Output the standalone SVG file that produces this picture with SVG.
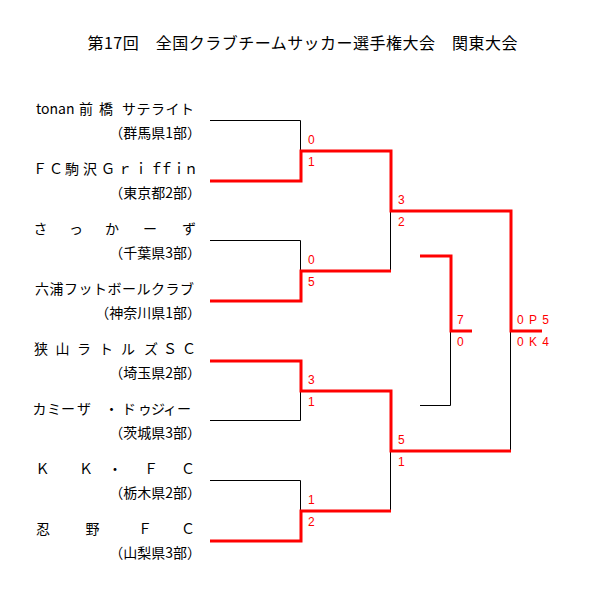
<svg xmlns="http://www.w3.org/2000/svg" width="600" height="600" viewBox="0 0 600 600">
<style>
  .title { font-family: "Noto Sans CJK JP", sans-serif; font-size: 16px; fill: #000; }
  .name { font-family: "Noto Sans CJK JP", sans-serif; font-size: 14px; fill: #000; }
  .pref { font-family: "Noto Sans CJK JP", sans-serif; font-size: 14px; fill: #000; text-anchor: end; }
  .score { font-family: "Liberation Sans", Arial, sans-serif; font-size: 12px; fill: #ff0000; }
  .blk { fill: none; stroke: #000; stroke-width: 1; }
  .red { fill: none; stroke: #ff0000; stroke-width: 3; stroke-linejoin: miter; stroke-linecap: butt; }
</style>
<rect x="0" y="0" width="600" height="600" fill="#ffffff"/>

<text id="title" class="title" x="87.5" y="49" textLength="430" lengthAdjust="spacing">第17回　全国クラブチームサッカー選手権大会　関東大会</text>

<g id="team1">
  <text class="name" x="36" y="114">tonan <tspan x="79">前</tspan> <tspan x="99">橋</tspan> <tspan x="122" letter-spacing="0.5">サテライト</tspan></text>
  <text class="pref" x="201" y="138">（群馬県1部）</text>
</g>
<g id="team2">
  <text class="name" x="33 49 65 83 101 118 134 149.5 159.5 172 184" y="174">ＦＣ駒沢Ｇｒｉｆｆｉｎ</text>
  <text class="pref" x="201" y="198">（東京都2部）</text>
</g>
<g id="team3">
  <text class="name" x="33.5 69 105 143 182" y="234">さっかーず</text>
  <text class="pref" x="201" y="258">（千葉県3部）</text>
</g>
<g id="team4">
  <text class="name" x="35" y="294" textLength="159" lengthAdjust="spacing">六浦フットボールクラブ</text>
  <text class="pref" x="201" y="318">（神奈川県1部）</text>
</g>
<g id="team5">
  <text class="name" x="34 55.5 77 99 121 144 163 182" y="354">狭山ラトルズＳＣ</text>
  <text class="pref" x="201" y="378">（埼玉県2部）</text>
</g>
<g id="team6">
  <text class="name" x="32.5 47 61 77 104.5 122 138 151 163 177" y="414">カミーザ・ドゥジィー</text>
  <text class="pref" x="201" y="438">（茨城県3部）</text>
</g>
<g id="team7">
  <text class="name" x="35.5 79 108 144 181" y="474">ＫＫ・ＦＣ</text>
  <text class="pref" x="201" y="498">（栃木県2部）</text>
</g>
<g id="team8">
  <text class="name" x="36 85.5 138 181" y="534">忍野ＦＣ</text>
  <text class="pref" x="201" y="558">（山梨県3部）</text>
</g>

<g id="connectors">
  <!-- losing (black) lines -->
  <path class="blk" d="M210 120.5 H300.5 V151"/>
  <path class="blk" d="M210 240.5 H300.5 V271"/>
  <path class="blk" d="M210 420.5 H300.5 V391"/>
  <path class="blk" d="M210 480.5 H300.5 V511"/>
  <path class="blk" d="M390.5 211 V271"/>
  <path class="blk" d="M390.5 451 V511"/>
  <path class="blk" d="M510.5 331 V451"/>
  <path class="blk" d="M420 405.5 H450.5 V331"/>
  <!-- winning (red) lines -->
  <path class="red" d="M210 181 H301 V151 H391 V211 H511 V331 H542"/>
  <path class="red" d="M210 301 H301 V271 H391"/>
  <path class="red" d="M210 361 H301 V391 H391 V451 H511"/>
  <path class="red" d="M210 541 H301 V511 H391"/>
  <path class="red" d="M420 256 H451 V331 H472"/>
</g>

<g id="scores">
  <text class="score" x="308" y="144">0</text>
  <text class="score" x="308" y="166">1</text>
  <text class="score" x="308" y="264">0</text>
  <text class="score" x="308" y="286">5</text>
  <text class="score" x="308" y="384">3</text>
  <text class="score" x="308" y="406">1</text>
  <text class="score" x="308" y="504">1</text>
  <text class="score" x="308" y="526">2</text>
  <text class="score" x="398" y="204">3</text>
  <text class="score" x="398" y="226">2</text>
  <text class="score" x="398" y="444">5</text>
  <text class="score" x="398" y="466">1</text>
  <text class="score" x="457" y="324">7</text>
  <text class="score" x="457" y="346">0</text>
  <text class="score" x="517" y="324" letter-spacing="1">0 P 5</text>
  <text class="score" x="517" y="346" letter-spacing="1">0 K 4</text>
</g>
</svg>
